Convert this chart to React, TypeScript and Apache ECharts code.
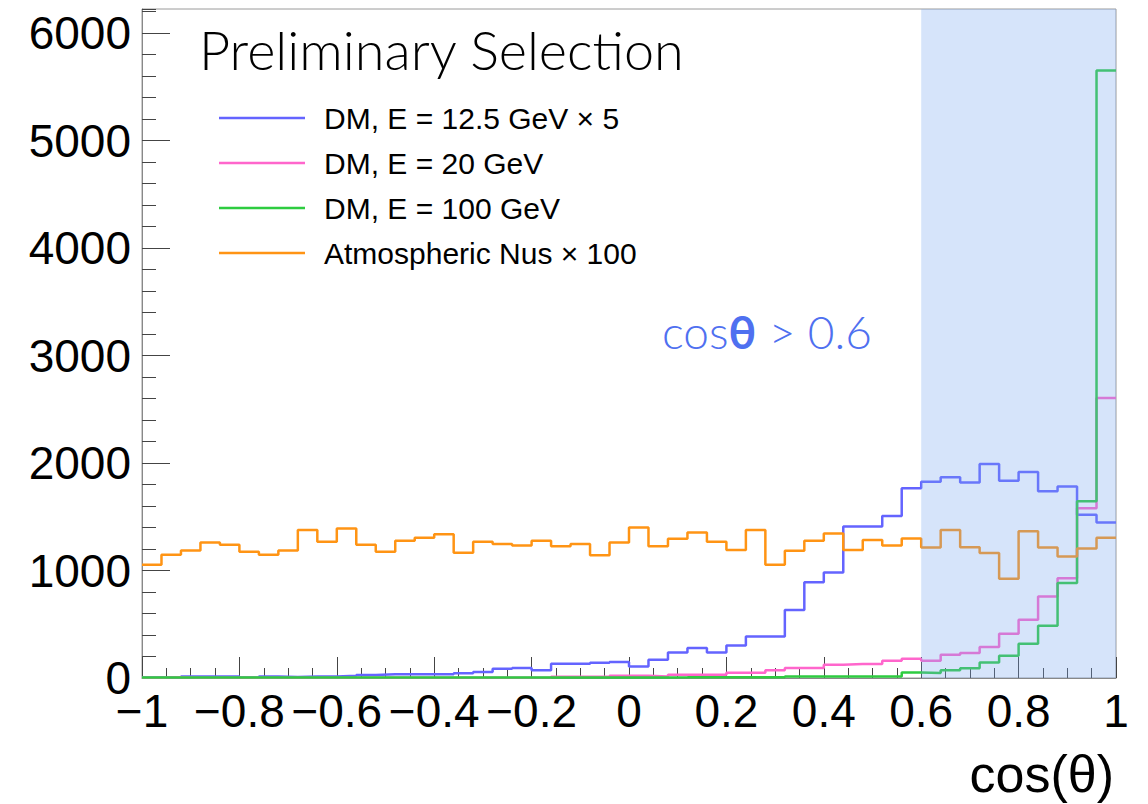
import { useEffect, useRef } from "react";
import * as echarts from "echarts";

// Histogram binning: 50 bins of width 0.04 over cos(theta) in [-1, 1]
const BIN_LOW = -1;
const BIN_WIDTH = 0.04;

const seriesNames = [
  "DM, E = 12.5 GeV \u00d7 5",
  "DM, E = 20 GeV",
  "DM, E = 100 GeV",
  "Atmospheric Nus \u00d7 100",
];

const dm12x5 = [
  5, 5, 15, 15, 15, 5, 15, 10, 15, 15, 20, 29, 35, 35, 35, 35, 45,
  56, 86, 93, 71, 133, 133, 142, 149, 108, 170, 238, 279, 238, 303, 387, 387, 632,
  892, 981, 1409, 1409, 1508, 1766, 1827, 1868, 1818, 1992, 1836, 1917, 1738, 1781, 1520, 1446,
];

const dm20 = [
  3, 8, 3, 3, 3, 3, 3, 3, 3, 3, 3, 3, 3, 3, 3, 3, 3, 3, 3, 3, 5,
  12, 12, 12, 20, 20, 15, 31, 31, 31, 49, 49, 71, 93,
  93, 124, 130, 130, 161, 179, 161, 217, 232, 288, 412, 542, 759, 929, 1580, 2605,
];

const dm100 = [
  4, 4, 5, 5, 5, 5, 5, 4, 4, 4, 5, 5, 5, 5, 5, 5, 5,
  4, 4, 4, 5, 5, 5, 5, 5, 5, 5, 6, 8, 8, 8, 8, 8, 15,
  15, 15, 15, 15, 15, 52, 46, 71, 90, 145, 207, 319, 486, 883, 1645, 5653,
];

const atmx100 = [
  1053, 1146, 1186, 1260, 1239, 1174, 1146, 1186, 1378, 1267, 1390, 1239, 1174, 1276, 1304, 1338, 1165,
  1267, 1248, 1233, 1276, 1227, 1248, 1143, 1260, 1400, 1227, 1295, 1353, 1267, 1192, 1378, 1053, 1183,
  1276, 1344, 1192, 1285, 1233, 1298, 1214, 1378, 1217, 1162, 923, 1366, 1214, 1130, 1205, 1304,
];

const seriesColors = ["#6464ff", "#ff66cc", "#2ecc40", "#ff9414"];

const yMax = 6225;
const cutValue = 0.6;

// Turn bin contents into step points: one point per left bin edge plus the closing right edge
function toSteps(values: number[]): number[][] {
  const pts = values.map((v, i) => [Math.round((BIN_LOW + i * BIN_WIDTH) * 1e6) / 1e6, v]);
  pts.push([Math.round((BIN_LOW + values.length * BIN_WIDTH) * 1e6) / 1e6, values[values.length - 1]]);
  return pts;
}

const AXIS_FONT = "Liberation Sans, Arial, sans-serif";

export default function App() {
  const ref = useRef<HTMLDivElement>(null);

  useEffect(() => {
    if (!ref.current) return;
    const chart = echarts.init(ref.current, undefined, { renderer: "svg" });

    const allValues = [dm12x5, dm20, dm100, atmx100];

    const series: any[] = allValues.map((vals, idx) => ({
      name: seriesNames[idx],
      type: "line",
      step: "end",
      data: toSteps(vals),
      showSymbol: false,
      symbol: "none",
      lineStyle: { color: seriesColors[idx], width: 2.5 },
      itemStyle: { color: seriesColors[idx] },
      z: 2,
    }));

    // translucent selection band drawn over the histograms
    series[3].markArea = {
      silent: true,
      z: 10,
      itemStyle: { color: "rgba(120,165,240,0.3)", borderWidth: 0 },
      data: [[{ xAxis: cutValue, yAxis: 0 }, { xAxis: 1, yAxis: yMax }]],
    };

    chart.setOption({
      animation: false,
      backgroundColor: "#ffffff",
      grid: {
        left: 142,
        right: 32,
        top: 9,
        bottom: 126,
        show: true,
        borderColor: "#9a9a9a",
        borderWidth: 1,
        backgroundColor: "transparent",
      },
      legend: {
        data: seriesNames,
        orient: "vertical",
        left: 214,
        top: 98,
        icon: "rect",
        itemWidth: 86,
        itemHeight: 2.5,
        itemGap: 15,
        selectedMode: false,
        textStyle: {
          fontFamily: AXIS_FONT,
          fontSize: 30,
          lineHeight: 30,
          color: "#000",
          padding: [0, 0, 0, 14],
        },
      },
      xAxis: {
        type: "value",
        min: -1,
        max: 1,
        interval: 0.2,
        name: "cos(\u03b8)",
        nameLocation: "end",
        nameGap: 0,
        nameTextStyle: {
          fontFamily: AXIS_FONT,
          fontSize: 52,
          color: "#000",
          align: "right",
          verticalAlign: "top",
          padding: [70, 2, 0, 0],
        },
        axisLine: { show: true, onZero: false, lineStyle: { color: "#888", width: 1 } },
        axisTick: { show: true, inside: true, length: 21, lineStyle: { color: "#444", width: 1 } },
        minorTick: { show: true, splitNumber: 4, length: 10, lineStyle: { color: "#444", width: 1 } },
        splitLine: { show: false },
        axisLabel: {
          fontFamily: AXIS_FONT,
          fontSize: 46,
          lineHeight: 34,
          color: "#000",
          margin: 16,
          formatter: (v: number) => String(Math.round(v * 10) / 10).replace("-", "\u2212"),
        },
      },
      yAxis: [
        {
          type: "value",
          min: 0,
          max: yMax,
          interval: 1000,
          position: "left",
          offset: 0,
          axisLine: { show: true, onZero: false, lineStyle: { color: "#888", width: 1 } },
          axisTick: { show: true, inside: true, length: 28, lineStyle: { color: "#444", width: 1 } },
          splitLine: { show: false },
          axisLabel: {
            fontFamily: AXIS_FONT,
            fontSize: 46,
            lineHeight: 30,
            color: "#000",
            margin: 11,
            showMaxLabel: false,
            formatter: (v: number) => String(v),
          },
        },
        {
          type: "value",
          min: 0,
          max: yMax,
          interval: 200,
          position: "left",
          offset: 0,
          axisLine: { show: false, onZero: false },
          axisTick: { show: true, inside: true, length: 14, lineStyle: { color: "#444", width: 1 } },
          splitLine: { show: false },
          axisLabel: { show: false },
        },
      ],
      series,
      graphic: [
        {
          type: "text",
          silent: true,
          style: {
            x: 199,
            y: 49,
            text: "Preliminary Selection",
            font: "300 54px Lato, 'Open Sans', sans-serif",
            fill: "#000",
            textAlign: "left",
            textVerticalAlign: "middle",
          },
        },
        {
          type: "text",
          silent: true,
          z: 20,
          style: {
            x: 662,
            y: 331,
            text: "cos{t|\u03b8} > 0.6",
            font: "300 46px Lato, 'Open Sans', sans-serif",
            fill: "#4f70f0",
            textAlign: "left",
            textVerticalAlign: "middle",
            rich: {
              t: {
                fontFamily: "Lato, 'Open Sans', sans-serif",
                fontWeight: "bold",
                fontSize: 46,
                fill: "#4f70f0",
                color: "#4f70f0",
              },
            },
          },
        },
      ],
    });

    return () => chart.dispose();
  }, []);

  return (
    <div
      ref={ref}
      style={{ position: "fixed", left: 0, top: 0, width: 1148, height: 804, background: "#fff" }}
    />
  );
}
